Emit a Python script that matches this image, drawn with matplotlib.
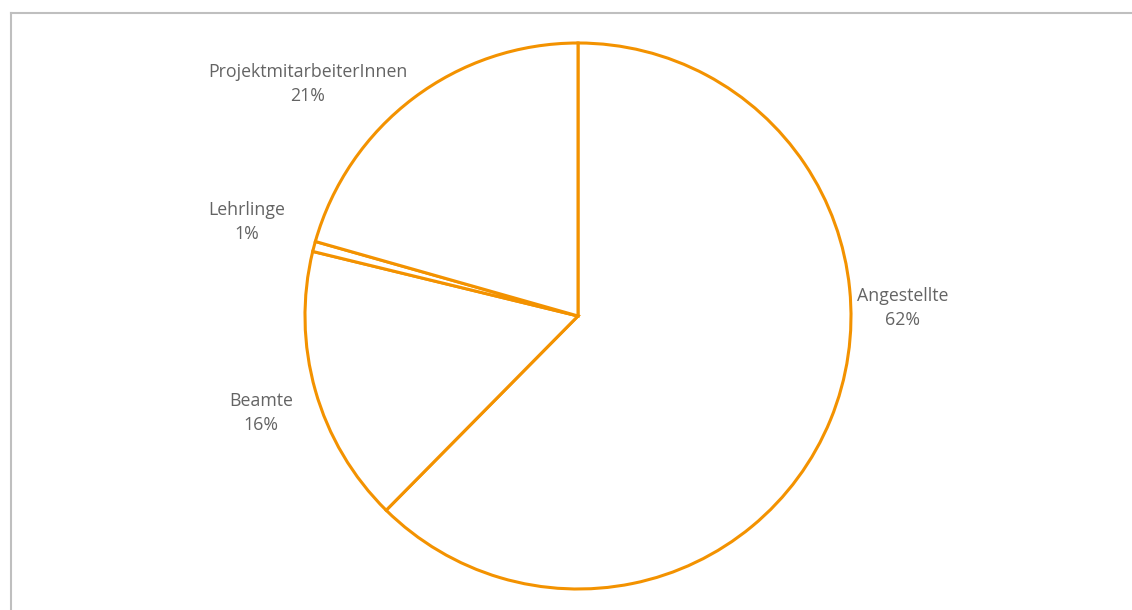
import matplotlib.pyplot as plt
from matplotlib.lines import Line2D

# Anteile der Beschäftigtengruppen (Prozent)
gruppen = ['Angestellte', 'Beamte', 'Lehrlinge', 'ProjektmitarbeiterInnen']
anteile = [62.4, 16.4, 0.6, 20.6]
# Position der Beschriftungen (in Radius-Einheiten)
label_x = [1.19, -1.16, -1.215, -0.99]
label_y = [0.03, -0.355, 0.345, 0.85]

orange = '#F39200'
grau = '#646464'
plt.rcParams['font.family'] = ['Open Sans', 'DejaVu Sans']

fig = plt.figure(figsize=(11.32, 6.10), dpi=100)
ax = fig.add_axes([305 / 1132, 21 / 610, 546 / 1132, 546 / 610])

ax.pie(anteile, startangle=90, counterclock=False, radius=1,
       wedgeprops=dict(facecolor='white', edgecolor=orange, linewidth=2.2))
ax.set_xlim(-1, 1)
ax.set_ylim(-1, 1)
ax.set_aspect('auto')

summe = sum(anteile)
for name, wert, x, y in zip(gruppen, anteile, label_x, label_y):
    ax.text(x, y, f'{name}\n{round(wert / summe * 100):.0f}%', ha='center', va='center',
            color=grau, fontsize=12.8, linespacing=1.4, clip_on=False)

# grauer Rahmen oben und links
fig.add_artist(Line2D([11 / 1132, 11 / 1132], [0, 1 - 13 / 610], transform=fig.transFigure,
                      color='#BFBFBF', linewidth=1.5))
fig.add_artist(Line2D([11 / 1132, 1], [1 - 13 / 610, 1 - 13 / 610], transform=fig.transFigure,
                      color='#BFBFBF', linewidth=1.5))

fig.savefig('out.png', dpi=100)
